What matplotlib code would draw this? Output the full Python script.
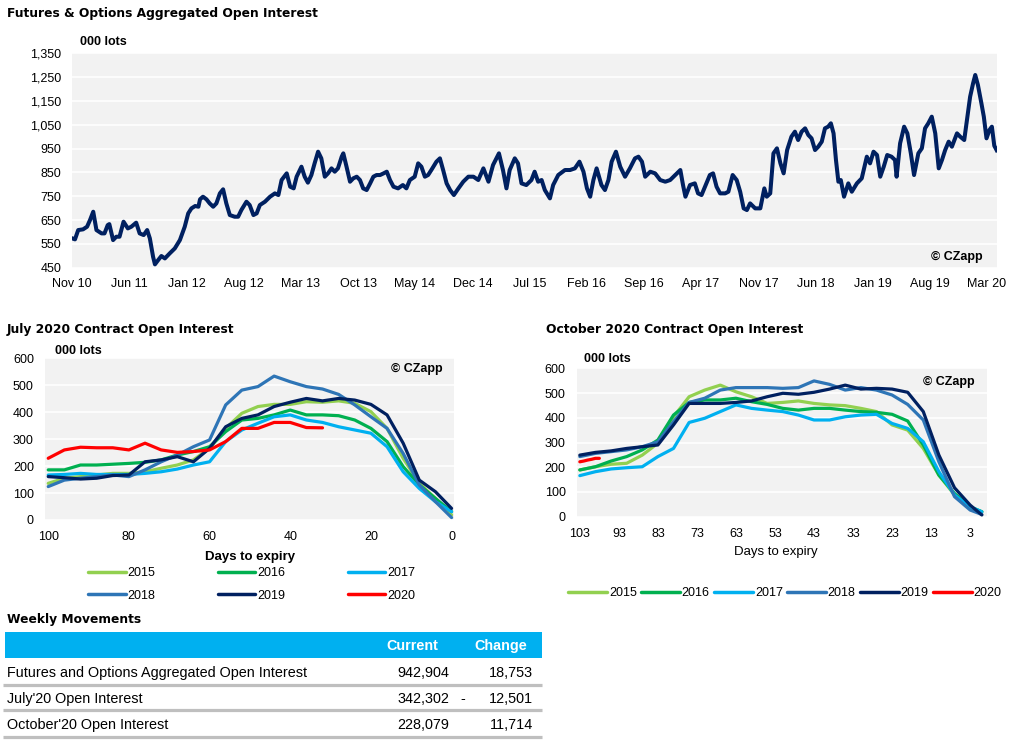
import numpy as np
import pandas as pd
import matplotlib
matplotlib.use("Agg")
import matplotlib.pyplot as plt
from matplotlib.ticker import FuncFormatter
from matplotlib.patches import Rectangle
from matplotlib.lines import Line2D

plt.rcParams['font.family'] = ['Liberation Sans', 'DejaVu Sans']

# --- aggregated open interest (000 lots) ---
main_dates = [
    "2010-11-01", "2010-11-11", "2010-11-23", "2010-12-11", "2010-12-26", "2011-01-06", "2011-01-18",
    "2011-01-30", "2011-02-18", "2011-03-01", "2011-03-13", "2011-03-19", "2011-04-02", "2011-04-14",
    "2011-04-26", "2011-05-11", "2011-05-27", "2011-06-09", "2011-06-27", "2011-07-10", "2011-07-25",
    "2011-08-07", "2011-08-17", "2011-08-29", "2011-09-05", "2011-09-17", "2011-09-29", "2011-10-12",
    "2011-10-30", "2011-11-18", "2011-12-07", "2011-12-25", "2012-01-07", "2012-01-19", "2012-02-02",
    "2012-02-14", "2012-02-20", "2012-03-02", "2012-03-15", "2012-03-27", "2012-04-09", "2012-04-21",
    "2012-05-04", "2012-05-16", "2012-05-28", "2012-06-10", "2012-06-28", "2012-07-11", "2012-07-23",
    "2012-08-11", "2012-08-23", "2012-09-06", "2012-09-18", "2012-09-30", "2012-10-19", "2012-11-07",
    "2012-11-25", "2012-12-08", "2012-12-20", "2013-01-08", "2013-01-21", "2013-02-03", "2013-02-14",
    "2013-03-04", "2013-03-16", "2013-03-28", "2013-04-10", "2013-04-22", "2013-05-05", "2013-05-17",
    "2013-05-30", "2013-06-11", "2013-06-24", "2013-07-06", "2013-07-18", "2013-08-01", "2013-08-07",
    "2013-08-19", "2013-09-01", "2013-09-13", "2013-09-26", "2013-10-08", "2013-10-20", "2013-11-02",
    "2013-11-15", "2013-11-27", "2013-12-09", "2013-12-22", "2014-01-04", "2014-01-16", "2014-01-28",
    "2014-02-10", "2014-02-27", "2014-03-17", "2014-03-30", "2014-04-12", "2014-04-30", "2014-05-13",
    "2014-05-25", "2014-06-07", "2014-06-19", "2014-07-01", "2014-07-20", "2014-08-02", "2014-08-14",
    "2014-08-27", "2014-09-09", "2014-09-23", "2014-10-10", "2014-10-28", "2014-11-16", "2014-12-05",
    "2014-12-23", "2015-01-11", "2015-01-30", "2015-02-16", "2015-03-10", "2015-03-25", "2015-04-07",
    "2015-04-19", "2015-05-08", "2015-05-20", "2015-06-02", "2015-06-20", "2015-07-09", "2015-07-21",
    "2015-08-03", "2015-08-16", "2015-08-28", "2015-09-16", "2015-09-28", "2015-10-17", "2015-11-11",
    "2015-11-30", "2015-12-18", "2016-01-04", "2016-01-19", "2016-02-01", "2016-02-13", "2016-02-25",
    "2016-03-08", "2016-03-26", "2016-04-08", "2016-04-21", "2016-05-03", "2016-05-19", "2016-06-04",
    "2016-06-22", "2016-07-10", "2016-07-29", "2016-08-11", "2016-08-24", "2016-09-05", "2016-09-24",
    "2016-10-12", "2016-10-31", "2016-11-19", "2016-12-07", "2016-12-26", "2017-01-14", "2017-01-24",
    "2017-02-02", "2017-02-19", "2017-03-09", "2017-03-21", "2017-04-03", "2017-04-16", "2017-05-04",
    "2017-05-16", "2017-05-29", "2017-06-11", "2017-06-30", "2017-07-12", "2017-07-28", "2017-08-12",
    "2017-08-25", "2017-09-07", "2017-09-19", "2017-10-01", "2017-10-20", "2017-11-08", "2017-11-23",
    "2017-12-02", "2017-12-15", "2017-12-27", "2018-01-09", "2018-01-22", "2018-02-03", "2018-02-16",
    "2018-03-04", "2018-03-17", "2018-03-29", "2018-04-11", "2018-04-24", "2018-05-06", "2018-05-18",
    "2018-05-31", "2018-06-12", "2018-06-25", "2018-07-07", "2018-07-19", "2018-07-29", "2018-08-08",
    "2018-08-17", "2018-08-26", "2018-09-04", "2018-09-16", "2018-10-02", "2018-10-15", "2018-11-03",
    "2018-11-21", "2018-12-04", "2018-12-10", "2018-12-22", "2019-01-04", "2019-01-17", "2019-01-29",
    "2019-02-11", "2019-02-24", "2019-03-12", "2019-03-25", "2019-03-31", "2019-04-13", "2019-04-28",
    "2019-05-10", "2019-05-23", "2019-06-04", "2019-06-20", "2019-07-03", "2019-07-15", "2019-07-27",
    "2019-08-09", "2019-08-22", "2019-09-04", "2019-09-16", "2019-09-28", "2019-10-11", "2019-10-23",
    "2019-11-11", "2019-11-23", "2019-12-08", "2019-12-18", "2019-12-30", "2020-01-10", "2020-01-18",
    "2020-01-28", "2020-02-10", "2020-02-19", "2020-02-29", "2020-03-11", "2020-03-20", "2020-03-29",
    "2020-04-07",
]
main_values = [
    573, 569, 608, 611, 622, 650, 685, 608, 594, 594, 629, 633, 566, 580, 580, 643, 615, 622, 639, 594,
    587, 608, 573, 496, 464, 482, 499, 489, 510, 531, 566, 622, 678, 699, 709, 706, 737, 748, 737, 720,
    706, 720, 762, 779, 720, 671, 664, 664, 692, 727, 713, 671, 678, 713, 727, 748, 762, 755, 818, 846,
    790, 783, 832, 874, 832, 807, 839, 888, 937, 909, 832, 846, 867, 853, 867, 916, 930, 874, 811, 825,
    832, 818, 783, 776, 804, 832, 839, 839, 846, 853, 818, 790, 783, 797, 783, 818, 832, 888, 874, 832,
    839, 860, 895, 909, 860, 804, 776, 755, 783, 811, 832, 832, 818, 867, 811, 881, 930, 860, 783, 860,
    909, 888, 804, 797, 818, 853, 811, 818, 776, 741, 797, 839, 860, 860, 867, 895, 853, 783, 748, 818,
    867, 797, 776, 818, 895, 937, 874, 832, 867, 909, 916, 895, 832, 853, 846, 818, 811, 818, 839, 860,
    797, 748, 797, 804, 762, 755, 790, 839, 846, 790, 762, 762, 769, 839, 818, 769, 699, 692, 720, 699,
    699, 783, 748, 762, 930, 951, 888, 846, 944, 1000, 1021, 986, 1021, 1035, 1007, 993, 944, 958, 979,
    1035, 1042, 1056, 1014, 902, 811, 818, 748, 804, 769, 804, 825, 888, 916, 888, 937, 923, 832, 874,
    923, 916, 902, 832, 972, 1042, 1014, 930, 839, 930, 951, 1035, 1056, 1084, 1014, 867, 902, 944, 979,
    958, 1014, 1000, 986, 1070, 1168, 1224, 1259, 1217, 1140, 1084, 993, 1028, 1042, 962, 943,
]

years = ["2015", "2016", "2017", "2018", "2019", "2020"]
year_colors = ["#92D050", "#00B050", "#00B0F0", "#2E75B6", "#002060", "#FF0000"]

# --- July contract, days to expiry ---
july_days = [100, 96, 92, 88, 84, 80, 76, 72, 68, 64, 60, 56, 52, 48, 44, 40, 36, 32, 28, 24, 20, 16, 12, 8, 4, 0]
july_2015 = [136, 155, 161, 167, 173, 173, 179, 192, 204, 223, 266, 340, 396, 421, 429, 429, 439, 437, 442, 433, 402, 340, 229, 136, 80, 19]
july_2016 = [186, 186, 204, 204, 207, 210, 214, 223, 241, 254, 272, 328, 371, 377, 390, 408, 390, 390, 387, 371, 340, 291, 198, 130, 80, 31]
july_2017 = [167, 169, 173, 169, 169, 169, 173, 179, 189, 204, 216, 291, 334, 359, 383, 390, 371, 362, 346, 334, 322, 272, 179, 117, 68, 31]
july_2018 = [124, 148, 155, 161, 167, 161, 186, 216, 241, 272, 297, 427, 482, 495, 534, 513, 495, 486, 466, 427, 383, 340, 247, 130, 68, 9]
july_2019 = [161, 157, 152, 155, 165, 167, 216, 223, 235, 216, 266, 346, 377, 390, 421, 437, 451, 442, 451, 445, 429, 390, 285, 148, 105, 43]
july_2020 = [229, 260, 270, 268, 268, 260, 285, 260, 251, 254, 260, 291, 340, 340, 362, 362, 343, 342]

# --- October contract, days to expiry ---
oct_days = [103, 99, 95, 91, 87, 83, 79, 75, 71, 67, 63, 59, 55, 51, 47, 43, 39, 35, 31, 27, 23, 19, 15, 11, 7, 3, 0]
oct_2015 = [189, 202, 212, 216, 249, 297, 404, 485, 512, 532, 505, 485, 458, 462, 468, 458, 452, 449, 438, 425, 371, 350, 276, 168, 88, 36, 20]
oct_2016 = [189, 202, 225, 243, 270, 310, 411, 462, 472, 472, 479, 465, 454, 438, 431, 438, 438, 431, 425, 422, 414, 387, 290, 168, 94, 40, 20]
oct_2017 = [166, 182, 193, 198, 202, 243, 276, 381, 398, 425, 452, 438, 431, 425, 411, 391, 391, 404, 411, 414, 377, 357, 303, 182, 88, 40, 20]
oct_2018 = [243, 256, 263, 270, 283, 303, 384, 462, 479, 512, 522, 522, 522, 519, 522, 549, 535, 512, 522, 512, 492, 454, 391, 222, 81, 27, 9]
oct_2019 = [249, 260, 266, 276, 283, 290, 371, 458, 458, 458, 462, 468, 485, 499, 495, 503, 516, 532, 516, 519, 516, 503, 425, 249, 117, 47, 7]
oct_2020_days = [103, 102, 101, 100, 99, 98]
oct_2020 = [222, 225, 229, 232, 236, 236]

# --- weekly movements table ---
table_labels = ["Futures and Options Aggregated Open Interest", "July'20 Open Interest", "October'20 Open Interest"]
table_current = [942904, 342302, 228079]
table_change = [18753, -12501, 11714]

W, H = 1023, 755
BG = "#F2F2F2"
NAVY = "#002060"

fig = plt.figure(figsize=(W / 100, H / 100), dpi=100)


def px_axes(l, t, r, b):
    return fig.add_axes([l / W, 1 - b / H, (r - l) / W, (b - t) / H])


def px_text(x, y, s, **kw):
    kw.setdefault("va", "center")
    fig.text(x / W, 1 - y / H, s, **kw)


def style(ax):
    ax.set_facecolor(BG)
    for sp in ax.spines.values():
        sp.set_visible(False)
    ax.grid(axis="y", color="white", lw=1.2)
    ax.set_axisbelow(True)
    ax.tick_params(length=0, labelsize=9, colors="black")


title_kw = dict(fontsize=8.8, fontweight="bold", family="DejaVu Sans")

# top chart
ax = px_axes(72.3, 53.3, 996.7, 267.7)
style(ax)
dates = pd.to_datetime(main_dates)
ax.plot(dates, main_values, color=NAVY, lw=2.9, solid_joinstyle="round")
ax.set_ylim(450, 1350)
ax.set_yticks(np.arange(450, 1351, 100))
ax.yaxis.set_major_formatter(FuncFormatter(lambda v, p: f"{int(v):,}"))
ticks = pd.date_range("2010-11-01", periods=17, freq="7MS")
ax.set_xticks(ticks)
ax.set_xticklabels([t.strftime("%b %y") for t in ticks])
ax.set_xlim(pd.Timestamp("2010-11-01"), dates[-1])
ax.tick_params(axis="y", pad=8)
ax.tick_params(axis="x", pad=7.5)

px_text(7, 14, "Futures & Options Aggregated Open Interest", **title_kw)
px_text(80, 42, "000 lots", fontsize=9, fontweight="bold")
px_text(983, 257, "\u00a9 CZapp", fontsize=9, fontweight="bold", ha="right")

# July chart
ax2 = px_axes(45, 358.3, 454, 520)
style(ax2)
july_series = [july_2015, july_2016, july_2017, july_2018, july_2019, july_2020]
for yr, col, vals in zip(years, year_colors, july_series):
    ax2.plot(july_days[:len(vals)], vals, color=col, lw=2.3, solid_capstyle="round", label=yr)
ax2.set_xlim(100.8, -0.6)
ax2.set_xticks([100, 80, 60, 40, 20, 0])
ax2.set_ylim(0, 600)
ax2.set_yticks(np.arange(0, 601, 100))
ax2.tick_params(axis="y", pad=8)
ax2.tick_params(axis="x", pad=8)

px_text(7, 330, "July 2020 Contract Open Interest", **title_kw)
px_text(55, 351, "000 lots", fontsize=9, fontweight="bold")
px_text(443, 369, "\u00a9 CZapp", fontsize=9, fontweight="bold", ha="right")
px_text(250, 556.7, "Days to expiry", fontsize=9.5, fontweight="bold", ha="center")

order = [0, 3, 1, 4, 2, 5]
leg_handles = [Line2D([], [], color=year_colors[i], lw=2.5, solid_capstyle="round") for i in order]
fig.legend(leg_handles, [years[i] for i in order], ncol=3, frameon=False, fontsize=9,
           loc="center", bbox_to_anchor=(251.7 / W, 1 - 584.5 / H),
           handlelength=3.0, handletextpad=0.15, columnspacing=5.0, labelspacing=0.85)

# October chart
ax3 = px_axes(576.7, 368.3, 987.3, 516.7)
style(ax3)
oct_series = [oct_2015, oct_2016, oct_2017, oct_2018, oct_2019]
for yr, col, vals in zip(years[:5], year_colors[:5], oct_series):
    ax3.plot(oct_days, vals, color=col, lw=2.3, solid_capstyle="round")
ax3.plot(oct_2020_days, oct_2020, color=year_colors[5], lw=2.3, solid_capstyle="round")
ax3.set_xlim(103.8, -1.4)
ax3.set_xticks(np.arange(103, 2, -10))
ax3.set_ylim(0, 600)
ax3.set_yticks(np.arange(0, 601, 100))
ax3.tick_params(axis="y", pad=8)
ax3.tick_params(axis="x", pad=8)

px_text(546, 330, "October 2020 Contract Open Interest", **title_kw)
px_text(584, 359, "000 lots", fontsize=9, fontweight="bold")
px_text(975, 381.7, "\u00a9 CZapp", fontsize=9, fontweight="bold", ha="right")
px_text(776, 552.3, "Days to expiry", fontsize=9.5, ha="center")

leg_handles2 = [Line2D([], [], color=c, lw=2.5, solid_capstyle="round") for c in year_colors]
fig.legend(leg_handles2, years, ncol=6, frameon=False, fontsize=9,
           loc="center", bbox_to_anchor=(785 / W, 1 - 593.3 / H),
           handlelength=3.1, handletextpad=0.15, columnspacing=0.35)

# weekly movements table
px_text(7, 620, "Weekly Movements", **title_kw)
tax = px_axes(0, 610, 550, 745)
tax.set_xlim(0, 550)
tax.set_ylim(745, 610)
tax.axis("off")
tax.add_patch(Rectangle((5, 631.7), 536.7, 26, color="#00B0F0", lw=0))
tax.text(412.7, 646, "Current", color="white", fontsize=10.4, fontweight="bold", ha="center", va="center")
tax.text(501, 646, "Change", color="white", fontsize=10.4, fontweight="bold", ha="center", va="center")
row_y = [672.7, 699.3, 725]
line_y = [685, 710.5, 736.7]
for ry, ly, lab, cur, chg in zip(row_y, line_y, table_labels, table_current, table_change):
    tax.text(7.3, ry, lab, fontsize=10.4, va="center")
    tax.text(449, ry, f"{cur:,}", fontsize=10.4, va="center", ha="right")
    if chg < 0:
        tax.text(462.7, ry, "-", fontsize=10.4, va="center", ha="center")
    tax.text(533.3, ry, f"{abs(chg):,}", fontsize=10.4, va="center", ha="right")
    tax.plot([3.3, 541.7], [ly, ly], color="#BFBFBF", lw=2.3, solid_capstyle="butt")

fig.savefig("out.png", dpi=100)
